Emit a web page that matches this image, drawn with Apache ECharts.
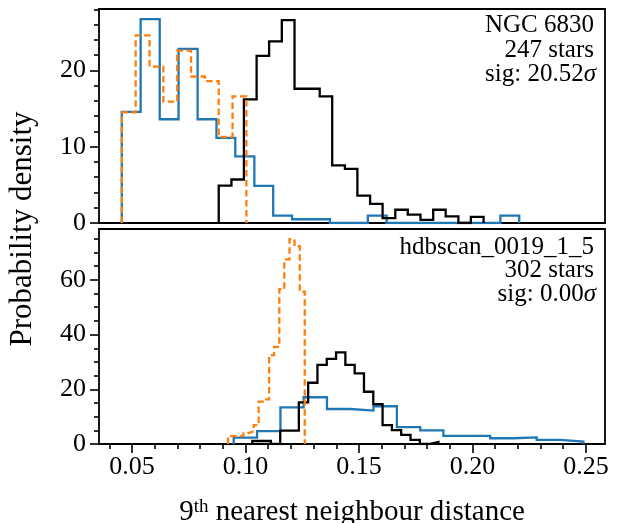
<!DOCTYPE html>
<html><head><meta charset="utf-8">
<script src="https://cdn.jsdelivr.net/npm/echarts@6/dist/echarts.min.js"></script>
<style>html,body{margin:0;padding:0;background:#fff}#c{width:618px;height:523px}</style>
</head><body><div id="c"></div>
<script>
// ---- data (bin edges and probability densities) ----
const topEdgesBlue = [0.0455,0.0538,0.0622,0.0705,0.0789,0.0872,0.0955,0.1039,0.1122,0.1205,0.1289,0.1372,0.1456,0.1539,0.1622,0.1706,0.1789,0.1873,0.1956,0.2039,0.2123,0.2206];
const topBlue      = [14.57,26.71,13.60,22.83,13.60,11.17,8.74,4.86,0.97,0.49,0.49,0,0,0.97,0,0,0,0,0,0,0.97];
const topEdgesOrange = [0.0455,0.0516,0.0577,0.0638,0.0699,0.0760,0.0821,0.0882,0.0943,0.1004];
const topOrange      = [14.5,24.6,20.5,15.9,22.6,19.2,18.6,11.3,16.6];
const topEdgesBlack = [0.0882,0.0938,0.0993,0.1049,0.1104,0.1160,0.1216,0.1271,0.1327,0.1382,0.1438,0.1493,0.1549,0.1604,0.1660,0.1715,0.1771,0.1827,0.1882,0.1938,0.1993,0.2049];
const topBlack      = [4.9,5.7,16.2,21.9,23.8,26.6,17.6,17.6,16.6,7.55,7.1,3.6,2.5,0.65,1.74,1.1,0.4,1.74,0.87,0,0.8];

const botEdgesOrange = [0.0923,0.0946,0.0968,0.0991,0.1013,0.1036,0.1058,0.1081,0.1104,0.1126,0.1149,0.1171,0.1194,0.1216,0.1239,0.1261];
const botOrange      = [2.9,2.9,3.0,4.0,4.6,6.9,15.5,16.3,32.5,35.5,56.6,67.5,74.9,72.3,55.7];
const botEdgesBlue = [0.0948,0.1051,0.1154,0.1256,0.1359,0.1462,0.1564,0.1667,0.1770,0.1872,0.1975,0.2078,0.2181,0.2283,0.2386,0.2489];
const botBlue      = [2.3,4.7,13.4,17.1,12.8,12.2,13.8,6.2,5.0,3.0,3.0,2.1,2.4,1.5,0.85];
const botEdgesBlack = [0.1030,0.1071,0.1112,0.1153,0.1194,0.1235,0.1276,0.1317,0.1358,0.1399,0.1440,0.1481,0.1522,0.1563,0.1604,0.1645,0.1686,0.1727,0.1768,0.1809,0.1850];
const botBlack      = [1.1,1.1,0,4.9,4.9,15.2,22.4,28.9,31.1,33.5,28.9,25.8,19.1,14.6,6.9,5.1,3.3,1.5,0,0.73];

// ---- ticks ----
const xMajor = [0.05,0.10,0.15,0.20,0.25];
const xMinor = [0.04,0.06,0.07,0.08,0.09,0.11,0.12,0.13,0.14,0.16,0.17,0.18,0.19,0.21,0.22,0.23,0.24];
const yTopMajor = [0,10,20];
const yTopMinor = [2,4,6,8,12,14,16,18,22,24,26,28];
const yBotMajor = [0,20,40,60];
const yBotMinor = [5,10,15,25,30,35,45,50,55,65,70,75];
const XMIN = 0.03545, XMAX = 0.2584;
const YTOPMAX = 28.05, YBOTMAX = 78.6;

const FONT = "'Liberation Serif', 'DejaVu Serif', serif";
const BLUE = '#1f77b4', ORANGE = '#ff7f0e', BLACK = '#000000';

function outline(edges, vals){
  const pts = [[edges[0], 0]];
  for (let i = 0; i < vals.length; i++) {
    pts.push([edges[i], vals[i]]);
    pts.push([edges[i+1], vals[i]]);
  }
  pts.push([edges[vals.length], 0]);
  return pts;
}

const tickLine = {color:'#000', width:1.6};
function xAx(grid, opts){
  return Object.assign({gridIndex:grid, type:'value', min:XMIN, max:XMAX, position:'bottom',
    axisLine:{show:false}, splitLine:{show:false}, axisTick:{show:false}, axisLabel:{show:false}}, opts);
}
function yAx(grid, max, opts){
  return Object.assign({gridIndex:grid, type:'value', min:0, max:max, position:'left',
    axisLine:{show:false}, splitLine:{show:false}, axisTick:{show:false}, axisLabel:{show:false}}, opts);
}
const labelStyle = {color:'#000', fontFamily:FONT, fontSize:26};

function ser(data, color, xi, yi, dashed){
  return {type:'line', data:data, xAxisIndex:xi, yAxisIndex:yi, showSymbol:false, symbol:'none',
    animation:false, clip:true,
    lineStyle:{color:color, width:2.3, type: dashed ? [6.5,3.5] : 'solid', cap:'butt', join:'miter'}};
}

const chart = echarts.init(document.getElementById('c'), null, {renderer:'canvas'});
chart.setOption({
  animation:false,
  backgroundColor:'#fff',
  grid:[
    {left:99, right:13, top:9, height:214, show:true, borderColor:'#000', borderWidth:1.8, backgroundColor:'transparent', containLabel:false, outerBoundsMode:'none'},
    {left:99, right:13, top:229, height:215, show:true, borderColor:'#000', borderWidth:1.8, backgroundColor:'transparent', containLabel:false, outerBoundsMode:'none'}
  ],
  xAxis:[
    xAx(0, {}),
    xAx(1, {axisTick:{show:true, customValues:xMajor, length:9, lineStyle:tickLine},
            axisLabel:{show:true, customValues:xMajor, formatter:v=>v.toFixed(2), margin:10, ...labelStyle},
            name:'{n|9}{s|th}{n| nearest neighbour distance}', nameLocation:'middle', nameGap:54,
            nameTextStyle:{rich:{n:{fontFamily:FONT, fontSize:29, color:'#000'}, s:{fontFamily:FONT, fontSize:19, color:'#000', verticalAlign:'top'}}}}),
    xAx(1, {axisTick:{show:true, customValues:xMinor, length:5, lineStyle:tickLine}})
  ],
  yAxis:[
    yAx(0, YTOPMAX, {axisTick:{show:true, customValues:yTopMajor, length:9, lineStyle:tickLine},
                     axisLabel:{show:true, customValues:yTopMajor, margin:13, ...labelStyle}}),
    yAx(0, YTOPMAX, {axisTick:{show:true, customValues:yTopMinor, length:5, lineStyle:tickLine}}),
    yAx(1, YBOTMAX, {axisTick:{show:true, customValues:yBotMajor, length:9, lineStyle:tickLine},
                     axisLabel:{show:true, customValues:yBotMajor, margin:13, ...labelStyle}}),
    yAx(1, YBOTMAX, {axisTick:{show:true, customValues:yBotMinor, length:5, lineStyle:tickLine}})
  ],
  series:[
    ser(outline(topEdgesBlue, topBlue), BLUE, 0, 0, false),
    ser(outline(topEdgesBlack, topBlack), BLACK, 0, 0, false),
    ser(outline(topEdgesOrange, topOrange), ORANGE, 0, 0, true),
    ser(outline(botEdgesBlue, botBlue), BLUE, 1, 2, false),
    ser(outline(botEdgesBlack, botBlack), BLACK, 1, 2, false),
    ser(outline(botEdgesOrange, botOrange), ORANGE, 1, 2, true)
  ],
  graphic:[
    {type:'text', x:23, y:229, rotation:Math.PI/2, style:{text:'Probability density', fontFamily:FONT, fontSize:31, fill:'#000', textAlign:'center', textVerticalAlign:'middle'}},
    {type:'text', x:594, y:25, style:{text:'NGC 6830', fontFamily:FONT, fontSize:25, fill:'#000', textAlign:'right', textVerticalAlign:'middle'}},
    {type:'text', x:594, y:50, style:{text:'247 stars', fontFamily:FONT, fontSize:25, fill:'#000', textAlign:'right', textVerticalAlign:'middle'}},
    {type:'text', x:596, y:74, style:{text:'sig: 20.52{i|σ}', fontFamily:FONT, fontSize:25, fill:'#000', textAlign:'right', textVerticalAlign:'middle', rich:{i:{fontStyle:'italic', fontFamily:FONT, fontSize:25, fill:'#000'}}}},
    {type:'text', x:594, y:247, style:{text:'hdbscan_0019_1_5', fontFamily:FONT, fontSize:25, fill:'#000', textAlign:'right', textVerticalAlign:'middle'}},
    {type:'text', x:594, y:270, style:{text:'302 stars', fontFamily:FONT, fontSize:25, fill:'#000', textAlign:'right', textVerticalAlign:'middle'}},
    {type:'text', x:596, y:294, style:{text:'sig: 0.00{i|σ}', fontFamily:FONT, fontSize:25, fill:'#000', textAlign:'right', textVerticalAlign:'middle', rich:{i:{fontStyle:'italic', fontFamily:FONT, fontSize:25, fill:'#000'}}}}
  ]
});
</script>
</body></html>
